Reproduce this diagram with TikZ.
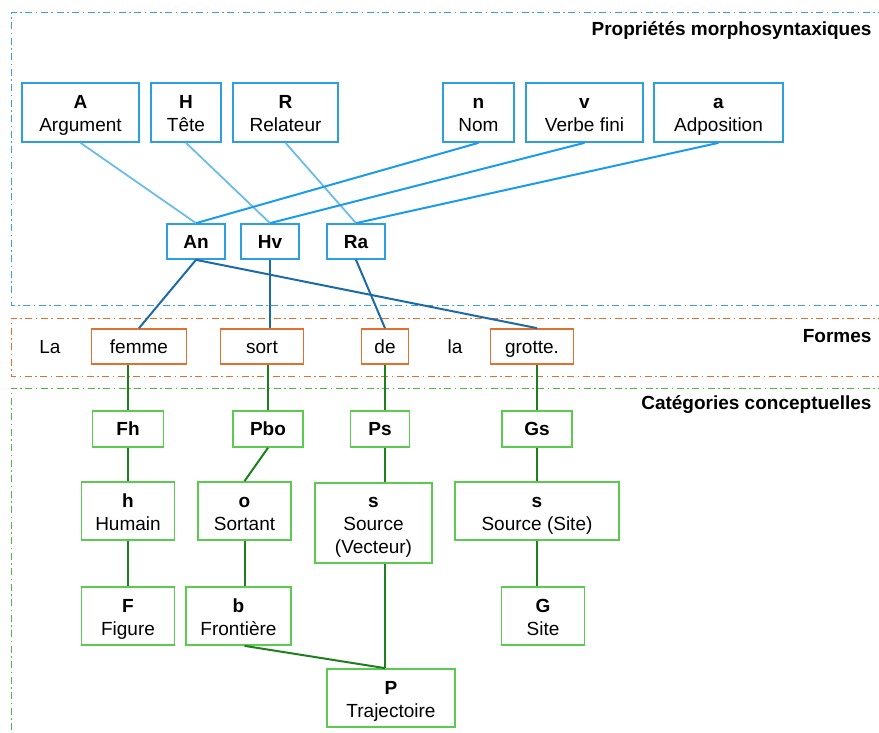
\documentclass[tikz,border=0pt]{standalone}
\usepackage{fontspec}
\setmainfont{Liberation Sans}
\usepackage{tikz}

\definecolor{frameblue}{HTML}{3AA0DC}
\definecolor{boxblue}{HTML}{2B9FE0}
\definecolor{lightline}{HTML}{6BBCE8}
\definecolor{brightline}{HTML}{1A9BEE}
\definecolor{darkline}{HTML}{1C6BA6}
\definecolor{formorange}{HTML}{E0702E}
\definecolor{boxgreen}{HTML}{5BCB4F}
\definecolor{linegreen}{HTML}{1F7F1F}

% bold head line over a plain label, fixed height and depth
\newcommand{\boxtext}[2]{\rule{0pt}{21pt}\textbf{#1}\\#2\rule[-6pt]{0pt}{6pt}}

\tikzset{
  dashdot frame/.style={line width=1pt, dash pattern=on 7pt off 3.5pt on 1.5pt off 3.5pt},
  box/.style={draw, line width=1.7pt, inner sep=0pt, align=center, font=\fontsize{19}{23}\selectfont},
  oneline/.style={text height=18pt, text depth=5pt},
  propbox/.style={box, draw=boxblue, minimum height=59pt},
  linkbox/.style={box, oneline, draw=boxblue, minimum height=35pt, minimum width=58pt},
  formbox/.style={box, oneline, draw=formorange, minimum height=35pt},
  catbox/.style={box, draw=boxgreen},
  title/.style={anchor=east, font=\fontsize{19}{23}\selectfont\bfseries},
  word/.style={oneline, inner sep=0pt, font=\fontsize{19}{23}\selectfont}
}

\begin{document}
\begin{tikzpicture}[x=1pt, y=-1pt]
\useasboundingbox (0,0) rectangle (879,733);
% layers
\draw[frameblue, dashdot frame] (885,13) -- (11,13) -- (11,305) -- (885,305);
\draw[formorange, dashdot frame] (885,318) -- (11,318) -- (11,376) -- (885,376);
\draw[boxgreen!90!black, dashdot frame] (885,388) -- (11,388) -- (11,740);
\node[title] (t1) at (875,31) {Propriétés morphosyntaxiques};
\node[title] (t2) at (875,336) {Formes};
\node[title] (t3) at (875,405) {Catégories conceptuelles};
% morphosyntax
\node[propbox, minimum width=117pt] (A) at (80.5,112.5) {\boxtext{A}{Argument}};
\node[propbox, minimum width=70pt] (H) at (186,112.5) {\boxtext{H}{Tête}};
\node[propbox, minimum width=105pt] (R) at (285.5,112.5) {\boxtext{R}{Relateur}};
\node[propbox, minimum width=71pt] (n) at (478.5,112.5) {\boxtext{n}{Nom}};
\node[propbox, minimum width=117pt] (v) at (584.5,112.5) {\boxtext{v}{Verbe fini}};
\node[propbox, minimum width=129pt] (a) at (718.5,112.5) {\boxtext{a}{Adposition}};
\node[linkbox] (An) at (196,241.5) {\textbf{An}};
\node[linkbox] (Hv) at (270,241.5) {\textbf{Hv}};
\node[linkbox] (Ra) at (356,241.5) {\textbf{Ra}};
\draw[lightline, line width=1.8pt] (A.south) -- (An.north);
\draw[lightline, line width=1.8pt] (H.south) -- (Hv.north);
\draw[lightline, line width=1.8pt] (R.south) -- (Ra.north);
\draw[brightline, line width=2pt] (n.south) -- (An.north);
\draw[brightline, line width=2pt] (v.south) -- (Hv.north);
\draw[brightline, line width=2pt] (a.south) -- (Ra.north);
% forms
\node[word] (La) at (50,346.5) {La};
\node[formbox, minimum width=95pt] (femme) at (139,346.5) {femme};
\node[formbox, minimum width=83pt] (sort) at (262,346.5) {sort};
\node[formbox, minimum width=47pt] (de) at (385,346.5) {de};
\node[word] (la) at (455,346.5) {la};
\node[formbox, minimum width=83pt] (grotte) at (532,346.5) {grotte.};
% concepts
\node[catbox, oneline, minimum width=71pt, minimum height=36pt] (Fh) at (128,429) {\textbf{Fh}};
\node[catbox, oneline, minimum width=70pt, minimum height=36pt] (Pbo) at (268,429) {\textbf{Pbo}};
\node[catbox, oneline, minimum width=59pt, minimum height=36pt] (Ps) at (380,429) {\textbf{Ps}};
\node[catbox, oneline, minimum width=70pt, minimum height=36pt] (Gs) at (537,429) {\textbf{Gs}};
\node[catbox, minimum width=93pt, minimum height=58pt] (h) at (128,511) {\boxtext{h}{Humain}};
\node[catbox, minimum width=93pt, minimum height=58pt] (o) at (244.5,511) {\boxtext{o}{Sortant}};
\node[catbox, minimum width=117pt, minimum height=80pt] (sV) at (373.5,523) {\boxtext{s}{Source\\(Vecteur)}};
\node[catbox, minimum width=164pt, minimum height=58pt] (sS) at (537,511) {\boxtext{s}{Source (Site)}};
\node[catbox, minimum width=93pt, minimum height=58pt] (F) at (128,616) {\boxtext{F}{Figure}};
\node[catbox, minimum width=105pt, minimum height=58pt] (b) at (238.5,616) {\boxtext{b}{Frontière}};
\node[catbox, minimum width=83pt, minimum height=58pt] (G) at (543,616) {\boxtext{G}{Site}};
\node[catbox, minimum width=128pt, minimum height=58pt] (P) at (391,698) {\boxtext{P}{Trajectoire}};
% links morphosyntax -- forms
\draw[darkline, line width=2pt] (An.south) -- (femme.north);
\draw[darkline, line width=2pt] (An.south) -- (Gs.north |- grotte.north);
\draw[darkline, line width=2pt] (Hv.south) -- (Hv.south |- sort.north);
\draw[darkline, line width=2pt] (Ra.south) -- (de.north);
% links forms -- concepts
\draw[linegreen, line width=2pt] (Fh.north |- femme.south) -- (Fh.north);
\draw[linegreen, line width=2pt] (Pbo.north |- sort.south) -- (Pbo.north);
\draw[linegreen, line width=2pt] (de.south) -- (de.south |- Ps.north);
\draw[linegreen, line width=2pt] (Gs.north |- grotte.south) -- (Gs.north);
\draw[linegreen, line width=2pt] (Fh.south) -- (h.north);
\draw[linegreen, line width=2pt] (h.south) -- (F.north);
\draw[linegreen, line width=2pt] (Pbo.south) -- (o.north);
\draw[linegreen, line width=2pt] (o.south) -- (o.south |- b.north);
\draw[linegreen, line width=2pt] (de.south |- Ps.south) -- (de.south |- sV.north);
\draw[linegreen, line width=2pt] (Gs.south) -- (sS.north);
\draw[linegreen, line width=2pt] (sS.south) -- (sS.south |- G.north);
\draw[linegreen, line width=2pt] (de.south |- sV.south) -- (de.south |- P.north);
\draw[linegreen, line width=2pt] (o.south |- b.south) -- (de.south |- P.north);
\end{tikzpicture}
\end{document}
